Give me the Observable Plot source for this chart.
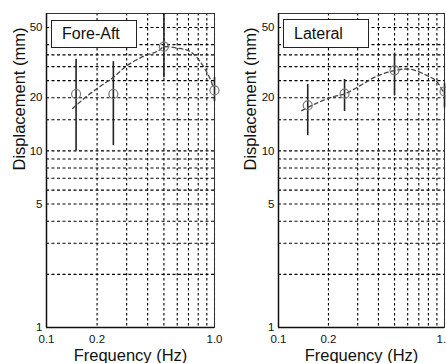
<!DOCTYPE html>
<html><head><meta charset="utf-8">
<script src="https://cdn.jsdelivr.net/npm/d3@7"></script>
<script src="https://cdn.jsdelivr.net/npm/@observablehq/plot@0.6"></script>
<style>
html,body{margin:0;padding:0;background:#fff;}
#wrap{position:relative;width:446px;height:363px;overflow:hidden;font-family:"Liberation Sans",Arial,sans-serif;}
.panel{position:absolute;top:0;}
.panel svg{max-width:none !important;}
.tag{position:absolute;box-sizing:border-box;border:1.6px solid #222;background:#fff;font-size:16px;color:#111;display:flex;align-items:center;padding-left:10px;}
</style>
</head><body>
<div id="wrap"></div>
<script>
// data
const freqs = [0.15, 0.25, 0.5, 1.0];
const foreMean = [21, 21, 39, 22];
const foreLo = [10, 10.7, 26, 19];
const foreHi = [33, 32, 60, 26];
const latMean = [18.1, 21.1, 28.6, 21.7];
const latLo = [12.2, 16.7, 20.6, 17.5];
const latHi = [23.8, 25.4, 35.8, 24];
const foreCurveF = [0.143, 0.175, 0.21, 0.25, 0.30, 0.38, 0.46, 0.50, 0.60, 0.71, 0.81, 0.92, 0.98];
const foreCurveD = [17.4, 20.5, 23.3, 26.1, 30.3, 34.4, 36.7, 38.8, 38.2, 36.7, 32.6, 26.8, 23.2];
const latCurveF = [0.138, 0.169, 0.214, 0.253, 0.312, 0.388, 0.506, 0.623, 0.78, 0.89, 0.98];
const latCurveD = [16.9, 18.6, 20.3, 21.1, 23.5, 26.4, 28.6, 29.0, 26.8, 24.9, 21.7];
const xTicks = [0.1, 0.2, 0.5, 1.0];
const yTicks = [1, 5, 10, 20, 50];
const xGrid = [0.2, 0.3, 0.4, 0.5, 0.6, 0.7, 0.8, 0.9, 1.0];
const yGrid = [2, 3, 4, 5, 6, 7, 8, 9, 10, 15, 20, 25, 30, 35, 40, 50];
const titles = ["Fore-Aft", "Lateral"];

const font = '"Liberation Sans", Arial, sans-serif';

function panel(o) {
  const pts = freqs.map((f, i) => ({f, m: o.mean[i], lo: o.lo[i], hi: o.hi[i]}));
  const curve = o.cf.map((f, i) => ({f, d: o.cd[i]}));
  return Plot.plot({
    width: o.width, height: 363,
    marginLeft: o.ml, marginRight: o.mr, marginTop: 13, marginBottom: 36,
    x: {type: "log", domain: [0.1, 1.0]},
    y: {type: "log", domain: [1, 60]},
    style: {fontFamily: font, color: "#111", background: "white", overflow: "visible", maxWidth: "none"},
    marks: [
      Plot.ruleX(xGrid, {stroke: "#000", strokeDasharray: "2.5,2.5", strokeWidth: 1.1}),
      Plot.ruleY(yGrid, {stroke: "#000", strokeDasharray: "3,2.5", strokeWidth: 1.1}),
      Plot.frame({stroke: "#333", strokeWidth: 1}),
      Plot.axisX(xTicks, {tickSize: 0, tickPadding: 7, tickFormat: d3.format(".1f"), fontSize: 11.5, label: null}),
      Plot.axisY(yTicks, {tickSize: 0, tickPadding: 4, tickFormat: d => String(d), fontSize: 11.5, label: null}),
      Plot.ruleY([1], {stroke: "#111", strokeWidth: 1.5}),
      Plot.ruleX([0.1], {stroke: "#111", strokeWidth: 1.5}),
      Plot.ruleX(pts, {x: "f", y1: "lo", y2: "hi", stroke: "#222", strokeWidth: 1.6}),
      Plot.line(curve, {x: "f", y: "d", curve: "catmull-rom", stroke: "#444", strokeWidth: 1.3, strokeDasharray: "4,3"}),
      Plot.dot(pts, {x: "f", y: "m", r: 4.5, stroke: "#777", strokeWidth: 1.2, fill: "none"}),
      Plot.text(["Displacement (mm)"], {frameAnchor: "left", dx: o.ydx, rotate: -90, fontSize: 16.5, fill: "#111"}),
      Plot.text(["Frequency (Hz)"], {frameAnchor: "bottom", dy: 28, lineAnchor: "middle", fontSize: 16.5, fill: "#111"})
    ]
  });
}

const wrap = document.getElementById("wrap");
const p1 = panel({width: 223, ml: 46, mr: 9, mean: foreMean, lo: foreLo, hi: foreHi, cf: foreCurveF, cd: foreCurveD, ydx: -27});
const p2 = panel({width: 240, ml: 55, mr: 19, mean: latMean, lo: latLo, hi: latHi, cf: latCurveF, cd: latCurveD, ydx: -28});
const d1 = document.createElement("div"); d1.className = "panel"; d1.style.left = "0px"; d1.style.width = "223px"; d1.appendChild(p1);
const d2 = document.createElement("div"); d2.className = "panel"; d2.style.left = "223px"; d2.style.width = "240px"; d2.appendChild(p2);
wrap.appendChild(d1); wrap.appendChild(d2);

const boxes = [{left: 51, top: 20, w: 86, h: 28}, {left: 283, top: 19, w: 86, h: 29}];
titles.forEach((t, i) => {
  const b = document.createElement("div");
  b.className = "tag";
  b.style.left = boxes[i].left + "px"; b.style.top = boxes[i].top + "px";
  b.style.width = boxes[i].w + "px"; b.style.height = boxes[i].h + "px";
  b.textContent = t;
  wrap.appendChild(b);
});
</script>
</body></html>
